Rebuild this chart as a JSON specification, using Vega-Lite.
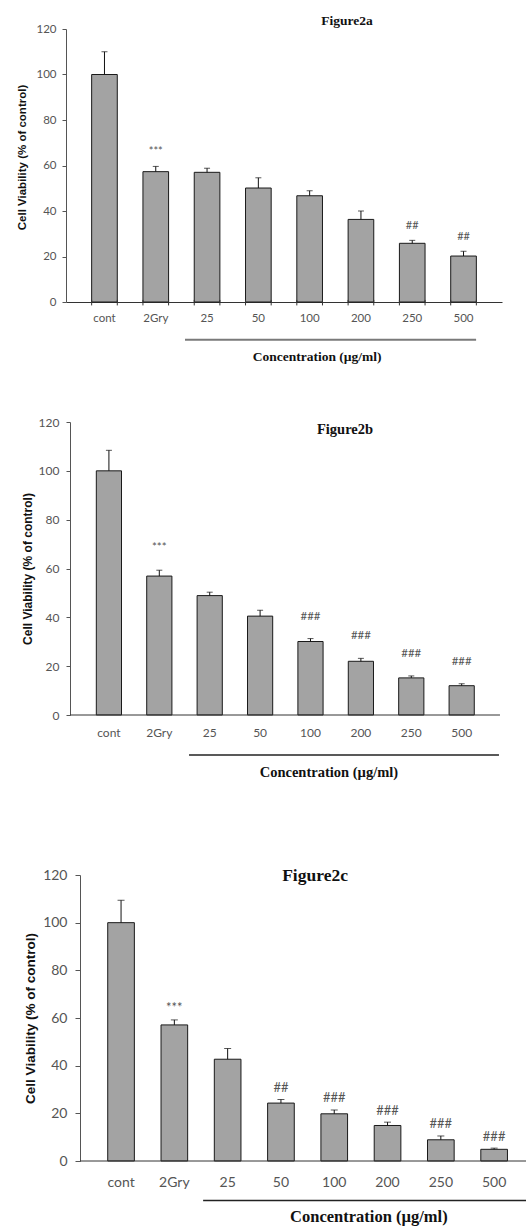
{
  "$schema": "https://vega.github.io/schema/vega-lite/v6.json",
  "padding": {"left": 16, "top": 14, "right": 0, "bottom": 0},
  "config": {"view": {"stroke": null}},
  "datasets": {
    "a": [
      {"group": "cont", "value": 100, "upper": 110, "sig": ""},
      {"group": "2Gry", "value": 57.3, "upper": 59.6, "sig": "***"},
      {"group": "25", "value": 57.0, "upper": 58.8, "sig": ""},
      {"group": "50", "value": 50.1, "upper": 54.6, "sig": ""},
      {"group": "100", "value": 46.7, "upper": 48.9, "sig": ""},
      {"group": "200", "value": 36.3, "upper": 40.0, "sig": ""},
      {"group": "250", "value": 25.8, "upper": 27.1, "sig": "##"},
      {"group": "500", "value": 20.2, "upper": 22.3, "sig": "##"}
    ],
    "b": [
      {"group": "cont", "value": 100, "upper": 108.4, "sig": ""},
      {"group": "2Gry", "value": 56.9, "upper": 59.3, "sig": "***"},
      {"group": "25", "value": 48.9, "upper": 50.3, "sig": ""},
      {"group": "50", "value": 40.5, "upper": 42.9, "sig": ""},
      {"group": "100", "value": 30.1, "upper": 31.3, "sig": "###"},
      {"group": "200", "value": 22.0, "upper": 23.2, "sig": "###"},
      {"group": "250", "value": 15.2, "upper": 16.0, "sig": "###"},
      {"group": "500", "value": 12.0, "upper": 12.8, "sig": "###"}
    ],
    "c": [
      {"group": "cont", "value": 100, "upper": 109.4, "sig": ""},
      {"group": "2Gry", "value": 57.1, "upper": 59.2, "sig": "***"},
      {"group": "25", "value": 42.7, "upper": 47.2, "sig": ""},
      {"group": "50", "value": 24.3, "upper": 25.8, "sig": "##"},
      {"group": "100", "value": 19.8, "upper": 21.4, "sig": "###"},
      {"group": "200", "value": 14.9, "upper": 16.3, "sig": "###"},
      {"group": "250", "value": 8.9, "upper": 10.5, "sig": "###"},
      {"group": "500", "value": 4.9, "upper": 5.4, "sig": "###"}
    ]
  },
  "spacing": 86,
  "vconcat": [
    {
      "spacing": 52,
      "vconcat": [
        {
          "width": 436,
          "height": 273,
          "data": {"name": "a"},
          "layer": [
            {
              "mark": {"type": "bar", "fill": "#a3a3a3", "stroke": "#1a1a1a", "strokeWidth": 1},
              "encoding": {
                "x": {"field": "group", "type": "nominal",
                  "scale": {"domain": ["cont", "2Gry", "25", "50", "100", "200", "250", "500"], "paddingInner": 0.5, "paddingOuter": 0.5},
                  "axis": {"title": null, "labelAngle": 0, "labelFont": "Lato", "labelFontSize": 11.5, "labelColor": "#555", "ticks": false, "labelPadding": 10, "domainColor": "#333"}},
                "y": {"field": "value", "type": "quantitative",
                  "scale": {"domain": [0, 120], "nice": false},
                  "axis": {"values": [0, 20, 40, 60, 80, 100, 120], "title": "Cell Viability (% of control)", "titleFont": "Liberation Sans", "titleFontWeight": "bold", "titleFontSize": 11.5, "titleColor": "#111", "titlePadding": 9, "titleY": 128, "labelFont": "Lato", "labelFontSize": 11.5, "labelColor": "#555", "labelPadding": 6, "tickSize": 4, "tickColor": "#555", "domainColor": "#555", "grid": false, "minExtent": 30, "maxExtent": 30}}
              }
            },
            {
              "mark": {"type": "rule", "color": "#111", "strokeWidth": 1},
              "encoding": {"x": {"field": "group", "type": "nominal"}, "y": {"field": "value", "type": "quantitative"}, "y2": {"field": "upper"}}
            },
            {
              "mark": {"type": "tick", "color": "#111", "size": 6, "thickness": 1},
              "encoding": {"x": {"field": "group", "type": "nominal"}, "y": {"field": "upper", "type": "quantitative"}}
            },
            {
              "mark": {"type": "text", "font": "Lato", "fontSize": 11, "color": "#555", "baseline": "middle", "dy": -14},
              "encoding": {"x": {"field": "group", "type": "nominal"}, "y": {"field": "upper", "type": "quantitative"}, "text": {"field": "sig"}}
            },
            {
              "mark": {"type": "rule", "color": "#333", "strokeWidth": 1},
              "encoding": {"x": {"field": "group", "type": "nominal", "bandPosition": 0}, "y": {"datum": -1.5, "type": "quantitative"}, "y2": {"datum": 0.9}}
            },
            {
              "mark": {"type": "rule", "color": "#333", "strokeWidth": 1},
              "encoding": {"x": {"field": "group", "type": "nominal", "bandPosition": 1}, "y": {"datum": -1.5, "type": "quantitative"}, "y2": {"datum": 0.9}}
            },
            {
              "data": {"values": [{}]},
              "mark": {"type": "text", "font": "Liberation Serif", "fontWeight": "bold", "fontSize": 13.5, "color": "#111", "align": "center", "baseline": "middle", "text": "Figure2a"},
              "encoding": {"x": {"datum": "100", "type": "nominal", "bandPosition": 1.96}, "y": {"datum": 123.5, "type": "quantitative"}}
            },
            {
              "data": {"values": [{}]},
              "mark": {"type": "rule", "color": "#7a7a7a", "strokeWidth": 2},
              "encoding": {"x": {"datum": "25", "type": "nominal", "bandPosition": -0.36}, "x2": {"datum": "500", "bandPosition": 0.99}, "y": {"datum": -16.6, "type": "quantitative"}}
            },
            {
              "data": {"values": [{}]},
              "mark": {"type": "text", "font": "Liberation Serif", "fontWeight": "bold", "fontSize": 13.5, "color": "#111", "align": "center", "baseline": "middle", "text": "Concentration (µg/ml)"},
              "encoding": {"x": {"datum": "100", "type": "nominal", "bandPosition": 0.79}, "y": {"datum": -24.2, "type": "quantitative"}}
            }
          ]
        },
        {
          "width": 434,
          "height": 293,
          "data": {"name": "b"},
          "layer": [
            {
              "mark": {"type": "bar", "fill": "#a3a3a3", "stroke": "#1a1a1a", "strokeWidth": 1},
              "encoding": {
                "x": {"field": "group", "type": "nominal",
                  "scale": {"domain": ["cont", "2Gry", "25", "50", "100", "200", "250", "500"], "paddingInner": 0.5, "paddingOuter": 0.556, "align": 0.541},
                  "axis": {"title": null, "labelAngle": 0, "labelFont": "Lato", "labelFontSize": 12, "labelColor": "#555", "ticks": false, "labelPadding": 12, "domain": false}},
                "y": {"field": "value", "type": "quantitative",
                  "scale": {"domain": [0, 120], "nice": false},
                  "axis": {"values": [0, 20, 40, 60, 80, 100, 120], "offset": -4, "title": "Cell Viability (% of control)", "titleFont": "Liberation Sans", "titleFontWeight": "bold", "titleFontSize": 12, "titleColor": "#111", "titlePadding": 4, "labelFont": "Lato", "labelFontSize": 12, "labelColor": "#555", "labelPadding": 7, "tickSize": 4, "tickColor": "#555", "domainColor": "#555", "grid": false, "minExtent": 32, "maxExtent": 32}}
              }
            },
            {
              "mark": {"type": "rule", "color": "#111", "strokeWidth": 1},
              "encoding": {"x": {"field": "group", "type": "nominal"}, "y": {"field": "value", "type": "quantitative"}, "y2": {"field": "upper"}}
            },
            {
              "mark": {"type": "tick", "color": "#111", "size": 6, "thickness": 1},
              "encoding": {"x": {"field": "group", "type": "nominal"}, "y": {"field": "upper", "type": "quantitative"}}
            },
            {
              "mark": {"type": "text", "font": "Lato", "fontSize": 11.5, "color": "#555", "baseline": "middle", "dy": -22},
              "encoding": {"x": {"field": "group", "type": "nominal"}, "y": {"field": "upper", "type": "quantitative"}, "text": {"field": "sig"}}
            },
            {
              "data": {"values": [{}]},
              "mark": {"type": "rule", "color": "#333", "strokeWidth": 1},
              "encoding": {"x": {"datum": "cont", "type": "nominal", "bandPosition": -1.04}, "x2": {"datum": "500", "bandPosition": 2.02}, "y": {"datum": 0, "type": "quantitative"}}
            },
            {
              "data": {"values": [{}]},
              "mark": {"type": "text", "font": "Liberation Serif", "fontWeight": "bold", "fontSize": 14.5, "color": "#111", "align": "center", "baseline": "middle", "text": "Figure2b"},
              "encoding": {"x": {"datum": "100", "type": "nominal", "bandPosition": 1.87}, "y": {"datum": 116.8, "type": "quantitative"}}
            },
            {
              "data": {"values": [{}]},
              "mark": {"type": "rule", "color": "#222", "strokeWidth": 1.5},
              "encoding": {"x": {"datum": "25", "type": "nominal", "bandPosition": -0.32}, "x2": {"datum": "500", "bandPosition": 1.98}, "y": {"datum": -16.4, "type": "quantitative"}}
            },
            {
              "data": {"values": [{}]},
              "mark": {"type": "text", "font": "Liberation Serif", "fontWeight": "bold", "fontSize": 14.5, "color": "#111", "align": "center", "baseline": "middle", "text": "Concentration (µg/ml)"},
              "encoding": {"x": {"datum": "100", "type": "nominal", "bandPosition": 1.23}, "y": {"datum": -23.8, "type": "quantitative"}}
            }
          ]
        }
      ]
    },
    {
      "width": 459,
      "height": 286,
      "data": {"name": "c"},
      "layer": [
        {
          "mark": {"type": "bar", "fill": "#a3a3a3", "stroke": "#1a1a1a", "strokeWidth": 1},
          "encoding": {
            "x": {"field": "group", "type": "nominal",
              "scale": {"domain": ["cont", "2Gry", "25", "50", "100", "200", "250", "500"], "paddingInner": 0.5, "paddingOuter": 0.556, "align": 0.704},
              "axis": {"title": null, "labelAngle": 0, "labelFont": "Lato", "labelFontSize": 14, "labelColor": "#555", "ticks": false, "labelPadding": 14, "domain": false}},
            "y": {"field": "value", "type": "quantitative",
              "scale": {"domain": [0, 120], "nice": false},
              "axis": {"values": [0, 20, 40, 60, 80, 100, 120], "offset": -14, "title": "Cell Viability (% of control)", "titleFont": "Liberation Sans", "titleFontWeight": "bold", "titleFontSize": 13.5, "titleColor": "#111", "titlePadding": 5, "labelFont": "Lato", "labelFontSize": 14, "labelColor": "#555", "labelPadding": 8, "tickSize": 5, "tickColor": "#555", "domainColor": "#555", "grid": false, "minExtent": 38, "maxExtent": 38}}
          }
        },
        {
          "mark": {"type": "rule", "color": "#111", "strokeWidth": 1},
          "encoding": {"x": {"field": "group", "type": "nominal"}, "y": {"field": "value", "type": "quantitative"}, "y2": {"field": "upper"}}
        },
        {
          "mark": {"type": "tick", "color": "#111", "size": 7, "thickness": 1},
          "encoding": {"x": {"field": "group", "type": "nominal"}, "y": {"field": "upper", "type": "quantitative"}}
        },
        {
          "mark": {"type": "text", "font": "Lato", "fontSize": 13, "color": "#555", "baseline": "middle", "dy": -11.5},
          "encoding": {"x": {"field": "group", "type": "nominal"}, "y": {"field": "upper", "type": "quantitative"}, "text": {"field": "sig"}}
        },
        {
          "data": {"values": [{}]},
          "mark": {"type": "rule", "color": "#333", "strokeWidth": 1},
          "encoding": {"x": {"datum": "cont", "type": "nominal", "bandPosition": -1.04}, "x2": {"datum": "500", "bandPosition": 1.7}, "y": {"datum": 0, "type": "quantitative"}}
        },
        {
          "data": {"values": [{}]},
          "mark": {"type": "text", "font": "Liberation Serif", "fontWeight": "bold", "fontSize": 17.5, "color": "#111", "align": "center", "baseline": "middle", "text": "Figure2c"},
          "encoding": {"x": {"datum": "100", "type": "nominal", "bandPosition": -0.22}, "y": {"datum": 119.6, "type": "quantitative"}}
        },
        {
          "data": {"values": [{}]},
          "mark": {"type": "rule", "color": "#222", "strokeWidth": 1.5},
          "encoding": {"x": {"datum": "25", "type": "nominal", "bandPosition": -0.42}, "x2": {"datum": "500", "bandPosition": 1.7}, "y": {"datum": -16.6, "type": "quantitative"}}
        },
        {
          "data": {"values": [{}]},
          "mark": {"type": "text", "font": "Liberation Serif", "fontWeight": "bold", "fontSize": 16.5, "color": "#111", "align": "center", "baseline": "middle", "text": "Concentration (µg/ml)"},
          "encoding": {"x": {"datum": "100", "type": "nominal", "bandPosition": 1.8}, "y": {"datum": -23.6, "type": "quantitative"}}
        }
      ]
    }
  ]
}
